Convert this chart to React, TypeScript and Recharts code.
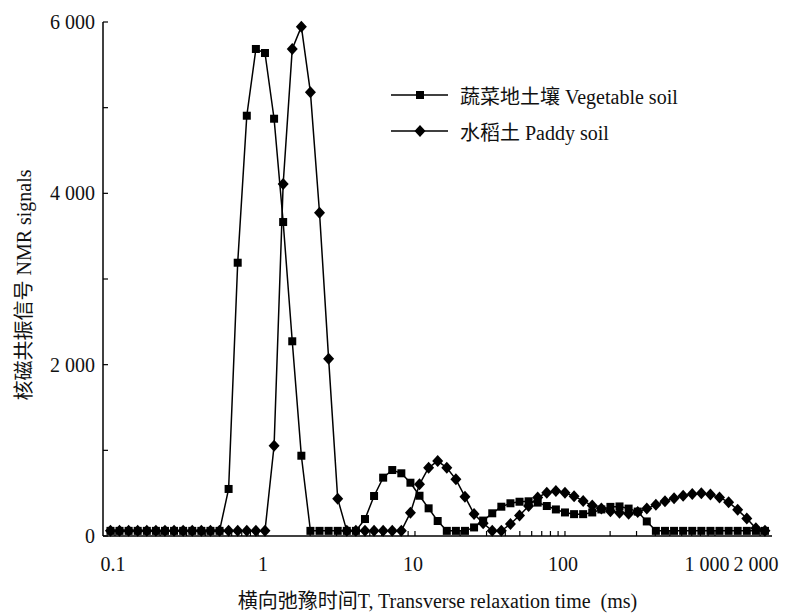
import React from "react";
import { LineChart, Line, XAxis, YAxis, Legend } from "recharts";

// relaxation time T2 (ms), log spaced inversion grid
const relaxTime = [
  0.0933, 0.1072, 0.1233, 0.1417, 0.163, 0.1874, 0.2154, 0.2477, 0.2848, 0.3275,
  0.3765, 0.4329, 0.4977, 0.5722, 0.6579, 0.7565, 0.8697, 1.0, 1.15, 1.322,
  1.52, 1.748, 2.009, 2.31, 2.656, 3.054, 3.511, 4.037, 4.642, 5.337,
  6.136, 7.055, 8.111, 9.326, 10.72, 12.33, 14.17, 16.3, 18.74, 21.54,
  24.77, 28.48, 32.75, 37.65, 43.29, 49.77, 57.22, 65.79, 75.65, 86.97,
  100, 115, 132.2, 152, 174.8, 200.9, 231, 265.6, 305.4, 351.1,
  403.7, 464.2, 533.7, 613.6, 705.5, 811.1, 932.6, 1072, 1233, 1417,
  1630, 1874, 2154,
];

const vegetableSoil = [
  60, 60, 60, 60, 60, 60, 60, 60, 60, 60,
  60, 60, 60, 549, 3190, 4906, 5685, 5638, 4871, 3665,
  2273, 937, 60, 60, 60, 60, 60, 60, 198, 467,
  681, 770, 732, 622, 470, 323, 175, 60, 60, 60,
  100, 180, 265, 342, 382, 400, 405, 390, 350, 310,
  275, 255, 255, 275, 310, 340, 345, 320, 285, 170,
  60, 60, 60, 60, 60, 60, 60, 60, 60, 60,
  60, 60, 60,
];

const paddySoil = [
  60, 60, 60, 60, 60, 60, 60, 60, 60, 60,
  60, 60, 60, 60, 60, 60, 60, 60, 1054, 4109,
  5685, 5945, 5179, 3774, 2070, 435, 60, 60, 60, 60,
  60, 60, 60, 272, 603, 797, 875, 797, 662, 459,
  257, 148, 60, 60, 140, 240, 350, 450, 505, 525,
  505, 465, 410, 355, 320, 290, 270, 260, 280, 320,
  365, 405, 440, 470, 490, 500, 485, 450, 395, 305,
  205, 90, 60,
];

const xMajorTicks = [0.1, 1, 10, 100, 1000, 2000];
const xMajorLabels = ["0.1", "1", "10", "100", "1 000", "2 000"];
const xMinorTicks = [
  0.2, 0.3, 0.4, 0.5, 0.6, 0.7, 0.8, 0.9,
  2, 3, 4, 5, 6, 7, 8, 9,
  20, 30, 40, 50, 60, 70, 80, 90,
  200, 300, 400, 500, 600, 700, 800, 900,
];
const yTicks = [0, 1000, 2000, 3000, 4000, 5000, 6000];
const yLabels = ["0", "", "2 000", "", "4 000", "", "6 000"];

const seriesNames = ["蔬菜地土壤 Vegetable soil", "水稻土 Paddy soil"];

const data = relaxTime.map((t, i) => ({
  t,
  veg: vegetableSoil[i],
  paddy: paddySoil[i],
}));

const FONT = '"Liberation Serif", "Noto Sans CJK SC", serif';
const INK = "#111";
const X_DOMAIN: [number, number] = [0.0832, 2400];

const SquareDot = (props: any) => {
  const { cx, cy, index } = props;
  if (cx == null || cy == null) return null;
  return <rect key={`sq-${index}`} x={cx - 4} y={cy - 4} width={8} height={8} fill="#000" />;
};

const DiamondDot = (props: any) => {
  const { cx, cy, index } = props;
  if (cx == null || cy == null) return null;
  return (
    <polygon
      key={`di-${index}`}
      points={`${cx},${cy - 6} ${cx + 5.5},${cy} ${cx},${cy + 6} ${cx - 5.5},${cy}`}
      fill="#000"
    />
  );
};

// labels sit slightly left of their ticks in the original
const labelShift: Record<string, number> = { "1 000": -8, "2 000": -4 };

const XTick = (props: any) => {
  const { x, y, payload } = props;
  const idx = xMajorTicks.indexOf(payload.value);
  if (idx < 0) return null;
  const text = xMajorLabels[idx];
  return (
    <text
      x={x + (labelShift[text] ?? -2)}
      y={y}
      dy="0.71em"
      textAnchor="middle"
      fontFamily={FONT}
      fontSize={20}
      fill={INK}
    >
      {text}
    </text>
  );
};

const YTick = (props: any) => {
  const { x, y, payload } = props;
  const text = yLabels[yTicks.indexOf(payload.value)];
  if (!text) return null;
  return (
    <text x={x} y={y} dy="0.35em" textAnchor="end" fontFamily={FONT} fontSize={20} fill={INK}>
      {text}
    </text>
  );
};

const XTitle = (props: any) => {
  const { viewBox } = props;
  return (
    <text
      x={viewBox.x + viewBox.width / 2}
      y={viewBox.y + viewBox.height + 35}
      textAnchor="middle"
      dominantBaseline="central"
      fontFamily={FONT}
      fontSize={20}
      fill={INK}
    >
      横向弛豫时间T, Transverse relaxation time&#160;&#160;(ms)
    </text>
  );
};

const YTitle = (props: any) => {
  const { viewBox } = props;
  const cx = viewBox.x - 19;
  const cy = viewBox.y + viewBox.height / 2 + 6;
  return (
    <text
      x={cx}
      y={cy}
      transform={`rotate(-90, ${cx}, ${cy})`}
      textAnchor="middle"
      dominantBaseline="central"
      fontFamily={FONT}
      fontSize={20}
      fill={INK}
    >
      核磁共振信号 NMR signals
    </text>
  );
};

const LegendIcon = ({ shape }: { shape: string }) => (
  <svg width={58} height={16} style={{ display: "block" }}>
    <line x1={0} y1={8} x2={57} y2={8} stroke="#000" strokeWidth={1.5} />
    {shape === "square" ? (
      <rect x={25} y={4} width={8} height={8} fill="#000" />
    ) : (
      <polygon points="29,2 34.5,8 29,14 23.5,8" fill="#000" />
    )}
  </svg>
);

const renderLegend = () => (
  <div style={{ fontFamily: FONT, fontSize: 20, color: INK }}>
    {seriesNames.map((name, i) => (
      <div key={name} style={{ display: "flex", alignItems: "center", height: 36 }}>
        <LegendIcon shape={i === 0 ? "square" : "diamond"} />
        <span style={{ marginLeft: 11, whiteSpace: "nowrap" }}>{name}</span>
      </div>
    ))}
  </div>
);

export default function App() {
  return (
    <div style={{ position: "absolute", left: 0, top: 0, width: 793, height: 613, fontFamily: FONT }}>
      <LineChart
        width={793}
        height={613}
        data={data}
        margin={{ top: 22, right: 21, left: 43, bottom: 47 }}
      >
        <XAxis
          dataKey="t"
          type="number"
          scale="log"
          domain={X_DOMAIN}
          allowDataOverflow
          ticks={[...xMajorTicks, ...xMinorTicks]}
          interval={0}
          tickSize={-5}
          tickMargin={26}
          tick={<XTick />}
          tickLine={{ stroke: "#000", strokeWidth: 1.2 }}
          axisLine={{ stroke: "#000", strokeWidth: 1.5 }}
          height={30}
          label={<XTitle />}
        />
        <XAxis
          xAxisId="top"
          orientation="top"
          type="number"
          scale="log"
          domain={X_DOMAIN}
          allowDataOverflow
          tick={false}
          tickLine={false}
          height={0}
          axisLine={{ stroke: "#000", strokeWidth: 1.5 }}
        />
        <YAxis
          type="number"
          domain={[0, 6000]}
          ticks={yTicks}
          interval={0}
          tickSize={-5}
          tickMargin={13}
          tick={<YTick />}
          tickLine={{ stroke: "#000", strokeWidth: 1.2 }}
          axisLine={{ stroke: "#000", strokeWidth: 1.5 }}
          width={60}
          label={<YTitle />}
        />
        <YAxis
          yAxisId="right"
          orientation="right"
          type="number"
          domain={[0, 6000]}
          tick={false}
          tickLine={false}
          width={0}
          axisLine={{ stroke: "#000", strokeWidth: 1.5 }}
        />
        <Legend
          layout="vertical"
          align="center"
          verticalAlign="middle"
          content={renderLegend}
          wrapperStyle={{ top: 77, left: 391, width: "auto" }}
        />
        <Line
          dataKey="veg"
          name={seriesNames[0]}
          type="linear"
          stroke="#000"
          strokeWidth={1.5}
          dot={SquareDot}
          activeDot={false}
          isAnimationActive={false}
        />
        <Line
          dataKey="paddy"
          name={seriesNames[1]}
          type="linear"
          stroke="#000"
          strokeWidth={1.5}
          dot={DiamondDot}
          activeDot={false}
          isAnimationActive={false}
        />
      </LineChart>
    </div>
  );
}
